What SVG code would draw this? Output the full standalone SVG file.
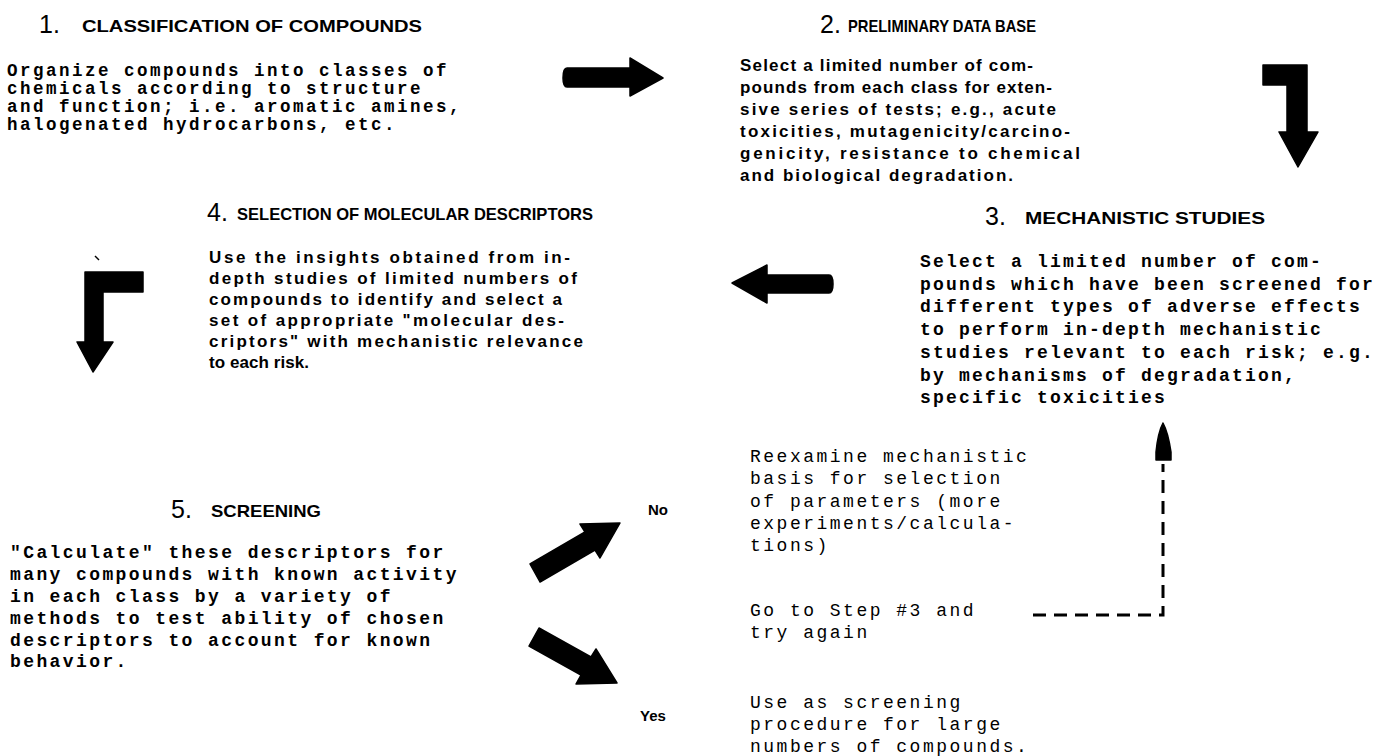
<svg xmlns="http://www.w3.org/2000/svg" width="1383" height="756" viewBox="0 0 1383 756">
<style>
.bg{fill:#fff}
.num{font-family:"Liberation Sans",Arial,sans-serif;font-size:25px;fill:#000}
.hd{font-family:"Liberation Sans",Arial,sans-serif;font-weight:bold;font-size:17px;fill:#000}
.mono{font-family:"Liberation Mono","Courier New",monospace;font-weight:bold;font-size:17.5px;letter-spacing:2.5px;fill:#000}
.mono3{font-family:"Liberation Mono","Courier New",monospace;font-weight:bold;font-size:18px;letter-spacing:2.2px;fill:#000}
.mono2{font-family:"Liberation Mono","Courier New",monospace;font-weight:bold;font-size:18px;letter-spacing:2.4px;fill:#000}
.monol{font-family:"Liberation Mono","Courier New",monospace;font-size:18px;letter-spacing:2.5px;fill:#000}
.sans{font-family:"Liberation Sans",Arial,sans-serif;font-weight:bold;font-size:17px;fill:#000}
.lbl{font-family:"Liberation Sans",Arial,sans-serif;font-weight:bold;font-size:15px;fill:#000}
.blk{fill:#000;stroke:#000;stroke-width:1.5;stroke-linejoin:round}
.dash{fill:none;stroke:#000;stroke-width:3}
</style>
<rect class="bg" x="0" y="0" width="1383" height="756"/>

<g id="step1">
<text class="num" x="39" y="33">1.</text>
<text class="hd" x="82" y="32" textLength="340" lengthAdjust="spacingAndGlyphs">CLASSIFICATION OF COMPOUNDS</text>
<text class="mono" x="7" y="76">Organize compounds into classes of</text>
<text class="mono" x="7" y="94">chemicals according to structure</text>
<text class="mono" x="7" y="112">and function; i.e. aromatic amines,</text>
<text class="mono" x="7" y="130">halogenated hydrocarbons, etc.</text>
</g>

<g id="step2">
<text class="num" x="820" y="33">2.</text>
<text class="hd" x="848" y="32" textLength="188" lengthAdjust="spacingAndGlyphs">PRELIMINARY DATA BASE</text>
<text class="sans" x="740" y="71" textLength="293">Select a limited number of com-</text>
<text class="sans" x="740" y="93" textLength="312">pounds from each class for exten-</text>
<text class="sans" x="740" y="115" textLength="316">sive series of tests; e.g., acute</text>
<text class="sans" x="740" y="137" textLength="330">toxicities, mutagenicity/carcino-</text>
<text class="sans" x="740" y="159" textLength="340">genicity, resistance to chemical</text>
<text class="sans" x="740" y="181" textLength="273">and biological degradation.</text>
</g>

<g id="step3">
<text class="num" x="985" y="225">3.</text>
<text class="hd" x="1025" y="224" textLength="240" lengthAdjust="spacingAndGlyphs">MECHANISTIC STUDIES</text>
<text class="mono3" x="920" y="267">Select a limited number of com-</text>
<text class="mono3" x="920" y="290">pounds which have been screened for</text>
<text class="mono3" x="920" y="312">different types of adverse effects</text>
<text class="mono3" x="920" y="335">to perform in-depth mechanistic</text>
<text class="mono3" x="920" y="358">studies relevant to each risk; e.g.</text>
<text class="mono3" x="920" y="381">by mechanisms of degradation,</text>
<text class="mono3" x="920" y="403">specific toxicities</text>
</g>

<g id="step4">
<text class="num" x="207" y="221">4.</text>
<text class="hd" x="237" y="220" textLength="356" lengthAdjust="spacingAndGlyphs">SELECTION OF MOLECULAR DESCRIPTORS</text>
<text class="sans" x="209" y="263" textLength="361">Use the insights obtained from in-</text>
<text class="sans" x="209" y="284" textLength="368">depth studies of limited numbers of</text>
<text class="sans" x="209" y="305" textLength="353">compounds to identify and select a</text>
<text class="sans" x="209" y="326" textLength="355">set of appropriate "molecular des-</text>
<text class="sans" x="209" y="347" textLength="374">criptors" with mechanistic relevance</text>
<text class="sans" x="209" y="368" textLength="100">to each risk.</text>
</g>

<g id="step5">
<text class="num" x="171" y="518">5.</text>
<text class="hd" x="211" y="517" textLength="110" lengthAdjust="spacingAndGlyphs">SCREENING</text>
<text class="mono2" x="10" y="558">"Calculate" these descriptors for</text>
<text class="mono2" x="10" y="580">many compounds with known activity</text>
<text class="mono2" x="10" y="602">in each class by a variety of</text>
<text class="mono2" x="10" y="624">methods to test ability of chosen</text>
<text class="mono2" x="10" y="646">descriptors to account for known</text>
<text class="mono2" x="10" y="667">behavior.</text>
</g>

<g id="label-no"><text class="lbl" x="648" y="515">No</text></g>
<g id="label-yes"><text class="lbl" x="640" y="721">Yes</text></g>

<g id="reexamine">
<text class="monol" x="750" y="462">Reexamine mechanistic</text>
<text class="monol" x="750" y="484">basis for selection</text>
<text class="monol" x="750" y="507">of parameters (more</text>
<text class="monol" x="750" y="529">experiments/calcula-</text>
<text class="monol" x="750" y="551">tions)</text>
</g>
<g id="goto">
<text class="monol" x="750" y="616">Go to Step #3 and</text>
<text class="monol" x="750" y="638">try again</text>
</g>
<g id="use">
<text class="monol" x="750" y="708">Use as screening</text>
<text class="monol" x="750" y="730">procedure for large</text>
<text class="monol" x="750" y="752">numbers of compounds.</text>
</g>

<g id="connectors">
<path class="blk" d="M567,68 L630,68 L630,58 L663,78 L630,96 L630,87 L567,87 Q563,87 563,78 Q563,68 567,68 Z"/>
<path class="blk" d="M1263,65 L1307,65 L1307,132 L1318,132 L1298,167 L1279,132 L1287,132 L1287,85 L1263,85 Z"/>
<path class="blk" d="M767,275 L829,275 Q833,275 833,284 Q833,293 829,293 L767,293 L767,303 L732,283 L767,265 Z"/>
<path class="blk" d="M85,272 L143,272 L143,292 L103,292 L103,342 L113,342 L93,372 L77,342 L85,342 Z"/>
<line x1="95" y1="256" x2="99" y2="260" stroke="#000" stroke-width="1.5"/>
<path class="blk" d="M530,564 L585,532 L580,524 L620,523 L600,558 L595,550 L540,582 Z"/>
<path class="blk" d="M539,628 L591,657 L596,649 L617,683 L576,684 L581,675 L529,646 Z"/>
<path class="dash" d="M1033,615 L1163,615 L1163,464" stroke-dasharray="13 8"/>
<path class="blk" d="M1163,423 Q1158,432 1156,452 L1156,460 L1171,460 L1171,452 Q1168,432 1163,423 Z"/>
</g>
</svg>
